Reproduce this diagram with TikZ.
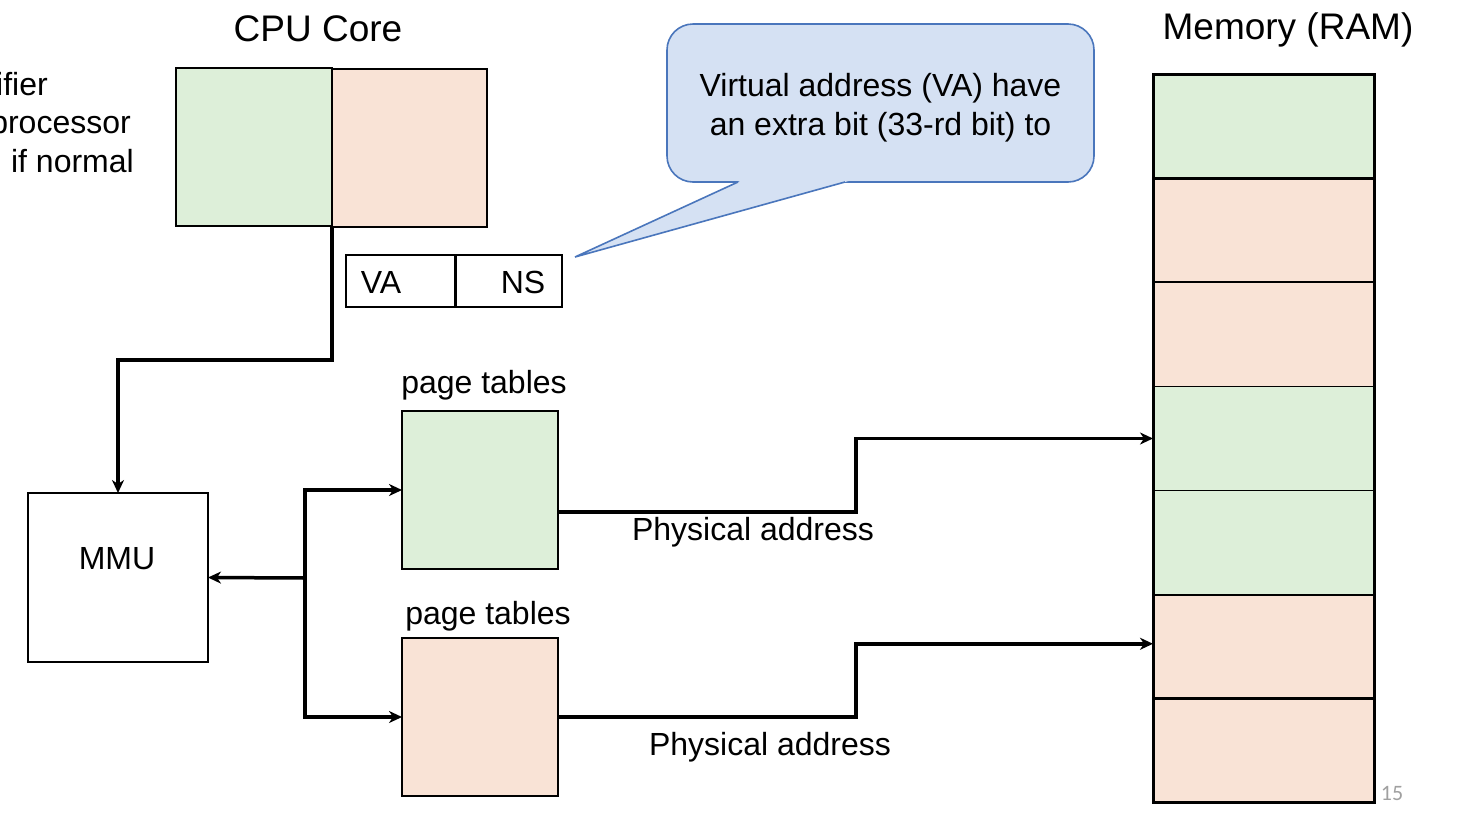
\documentclass[tikz,border=0pt]{standalone}
\usepackage{fontspec}
\setmainfont{Liberation Sans}
\newfontfamily\pgnumfont{Carlito}
\usetikzlibrary{arrows.meta,calc}
\definecolor{cgreen}{HTML}{DDEFD9}
\definecolor{cpeach}{HTML}{F9E3D6}
\definecolor{cfill}{HTML}{D5E1F3}
\definecolor{cline}{HTML}{4A76BC}
\definecolor{pgray}{HTML}{A0A0A0}
\newcommand{\bodyfont}{\fontsize{32}{38}\selectfont}
\newcommand{\titlefont}{\fontsize{37}{44}\selectfont}
\tikzset{
  box/.style={draw=black, line width=1.6pt, inner sep=0pt, outer sep=0pt},
  gbox/.style={box, fill=cgreen},
  pbox/.style={box, fill=cpeach},
  conn/.style={line width=3.5pt, line join=miter},
  arr/.style={conn, -{Stealth[length=13pt,width=12pt,inset=4pt]}},
  txt/.style={font=\bodyfont, inner sep=0pt, anchor=base},
  ttl/.style={font=\titlefont, inner sep=0pt, anchor=base},
}
\begin{document}
\begin{tikzpicture}[x=1pt,y=-1pt]
\useasboundingbox (0,0) rectangle (1462,812);
\fill[white] (0,0) rectangle (1462,812);

% left cut-off text (cut at the page edge, as in the reference)
\node[txt, anchor=base east] (l1) at (48,95) {ifier};
\node[txt, anchor=base east] (l2) at (131,133.5) {processor};
\node[txt, anchor=base east] (l3) at (134,172) {if normal};

% titles
\node[ttl] (cputitle) at (318,41) {CPU Core};
\node[ttl] (memtitle) at (1288,39) {Memory (RAM)};

% CPU core
\node[gbox, minimum width=156pt, minimum height=158pt] (cpug) at (254,147) {};
\node[pbox, minimum width=155pt, minimum height=158pt] (cpup) at (409.5,148) {};

% VA / NS
\node[box, minimum width=109pt, minimum height=52pt] (va) at (400.5,281) {};
\node[box, minimum width=107pt, minimum height=52pt] (ns) at (508.5,281) {};
\draw[line width=3pt] (va.north east) -- (va.south east);
\node[txt] (vat) at (381,293.5) {VA};
\node[txt] (nst) at (523,293.5) {NS};

% callout
\node[draw=cline, fill=cfill, line width=1.6pt, rounded corners=26pt,
      minimum width=427pt, minimum height=158pt, inner sep=0pt] (callout) at (880.5,103) {};
\fill[cfill] (742.3,180) -- (575,257) -- (852.2,180) -- cycle;
\draw[cline, line width=1.6pt, line join=miter] (738,182) -- (575,257) -- (845,182);
\node[txt] (co1) at (880.5,96.5) {Virtual address (VA) have};
\node[txt] (co2) at (880.5,135.5) {an extra bit (33-rd bit) to};

% MMU
\node[box, minimum width=180pt, minimum height=169pt] (mmu) at (118,577.5) {};
\node[txt] (mmut) at (117,569.5) {MMU};

% page tables
\node[txt] (pt1l) at (484,393) {page tables};
\node[gbox, minimum width=156pt, minimum height=158pt] (ptg) at (480,490) {};
\node[txt] (pt2l) at (488,624) {page tables};
\node[pbox, minimum width=156pt, minimum height=158pt] (ptp) at (480,717) {};

% memory cells
\foreach \i/\c in {1/cgreen,2/cpeach,3/cpeach,4/cgreen,5/cgreen,6/cpeach,7/cpeach}{
  \node[box, fill=\c, line width=1.8pt, minimum width=221pt, minimum height=104.14pt]
    (mem\i) at (1263.5,{74+(\i-0.5)*104.14}) {};
}
\draw[line width=3pt] (mem1.north west) rectangle (mem7.south east);
\draw[line width=3pt] (mem1.south west) -- (mem1.south east);
\draw[line width=3pt] (mem6.south west) -- (mem6.south east);

% connectors
\draw[arr] (cpug.south east) -- ++(0,134) -| (mmu.north);
\coordinate (jn) at (305,578);
\draw[arr] (jn) -- (mmu.east);
\draw[arr] (jn) |- (ptg.west);
\draw[arr] (jn) |- (ptp.west);

\draw[arr] ([yshift=-22pt]ptg.east) -- ++(298,0) |- (mem4.west);
\draw[arr] (ptp.east) -- ++(298,0) |- ([yshift=3pt]mem6.west);

\node[txt] (pa1) at (753,540) {Physical address};
\node[txt] (pa2) at (770,755) {Physical address};

% page number
\node[font=\pgnumfont\fontsize{22}{26}\selectfont, text=pgray, inner sep=0pt, anchor=base] (pgn) at (1392,800) {15};
\end{tikzpicture}
\end{document}
